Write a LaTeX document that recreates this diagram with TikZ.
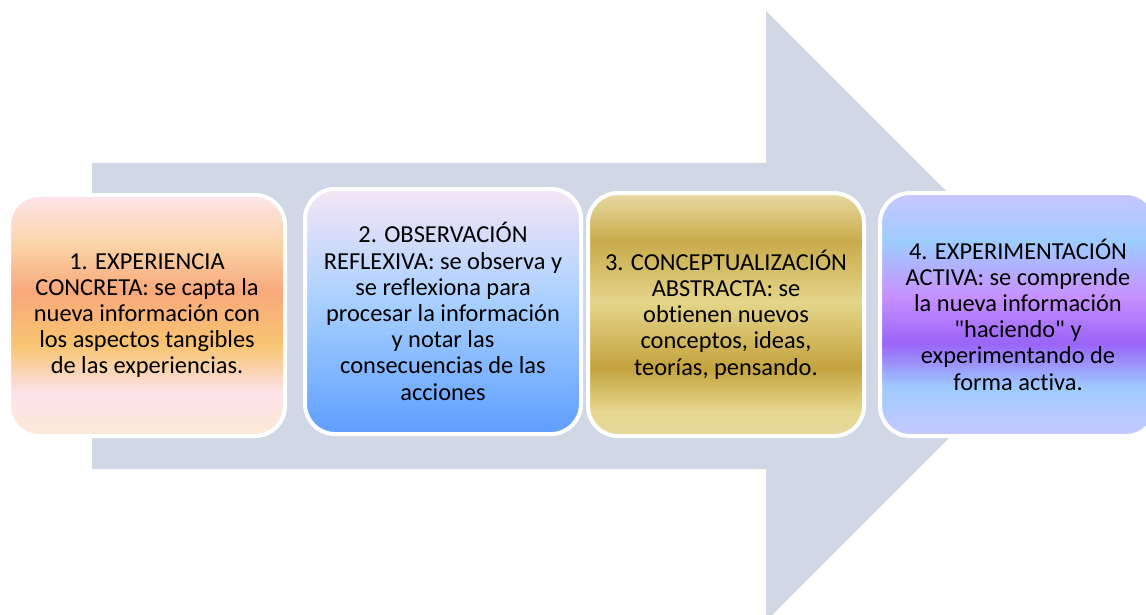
\documentclass[tikz,border=0pt]{standalone}
\usepackage{fontspec}
\setmainfont{Carlito}[Ligatures={TeXOff,CommonOff}]
\usetikzlibrary{shadings}
\definecolor{arrowfill}{HTML}{D0D8E6}
% box 1 (orange / pink)
\definecolor{aA}{HTML}{FCEAD5}
\definecolor{aB}{HTML}{FCE2EA}
\definecolor{aC}{HTML}{F8C470}
\definecolor{aD}{HTML}{F9A87B}
\definecolor{aE}{HTML}{FAD5A8}
\definecolor{aF}{HTML}{FCE4EC}
% box 2 (blue)
\definecolor{bA}{HTML}{5E9EFF}
\definecolor{bB}{HTML}{A8D0FF}
\definecolor{bC}{HTML}{F5E6F5}
% box 3 (gold)
\definecolor{cA}{HTML}{E4D79A}
\definecolor{cB}{HTML}{E6D890}
\definecolor{cC}{HTML}{C4A33E}
\definecolor{cD}{HTML}{E4D58A}
\definecolor{cE}{HTML}{C9AB4B}
\definecolor{cF}{HTML}{E6D9A2}
% box 4 (violet / blue)
\definecolor{dA}{HTML}{C6C9FF}
\definecolor{dB}{HTML}{9ECBFF}
\definecolor{dC}{HTML}{9A64F8}
\definecolor{dD}{HTML}{C792FF}
\definecolor{dE}{HTML}{9ECCFF}
\definecolor{dF}{HTML}{C9C6FF}
\pgfdeclareverticalshading{shadeA}{100bp}{color(0bp)=(aA); color(25bp)=(aA); color(34bp)=(aB); color(44bp)=(aC); color(55bp)=(aD); color(65bp)=(aE); color(75bp)=(aF); color(100bp)=(aF)}
\pgfdeclareverticalshading{shadeB}{100bp}{color(0bp)=(bA); color(25bp)=(bA); color(52bp)=(bB); color(75bp)=(bC); color(100bp)=(bC)}
\pgfdeclareverticalshading{shadeC}{100bp}{color(0bp)=(cA); color(25bp)=(cA); color(30bp)=(cB); color(39bp)=(cC); color(52.5bp)=(cD); color(65bp)=(cE); color(75bp)=(cF); color(100bp)=(cF)}
\pgfdeclareverticalshading{shadeD}{100bp}{color(0bp)=(dA); color(25bp)=(dA); color(35bp)=(dB); color(44bp)=(dC); color(54bp)=(dD); color(65bp)=(dE); color(75bp)=(dF); color(100bp)=(dF)}
\tikzset{
  stagebox/.style={draw=white, line width=4pt, rounded corners=30pt,
    minimum width=276pt, align=center, text=black,
    font=\fontsize{24.4}{26.2}\selectfont, inner sep=0pt},
}
\begin{document}
\begin{tikzpicture}[x=1pt, y=-1pt]
\useasboundingbox (0,0) rectangle (1146,615);
\clip (0,0) rectangle (1146,615);
\fill[arrowfill] (92,163) -- (766,163) -- (766,11) -- (1071,316) -- (766,621) -- (766,469) -- (92,469) -- cycle;
\node[stagebox, shading=shadeA, minimum height=241pt] (b1) at (147,315.5)
  {1. EXPERIENCIA\\CONCRETA: se capta la\\nueva información con\\los aspectos tangibles\\de las experiencias.};
\node[stagebox, shading=shadeB, minimum height=245pt] (b2) at (443,311.5)
  {2. OBSERVACIÓN\\REFLEXIVA: se observa y\\se reflexiona para\\procesar la información\\y notar las\\consecuencias de las\\acciones};
\node[stagebox, shading=shadeC, minimum height=243pt] (b3) at (726,314.5)
  {3. CONCEPTUALIZACIÓN\\ABSTRACTA: se\\obtienen nuevos\\conceptos, ideas,\\teorías, pensando.};
\node[stagebox, shading=shadeD, minimum height=243pt] (b4) at (1018,314.5)
  {4. EXPERIMENTACIÓN\\ACTIVA: se comprende\\la nueva información\\"haciendo" y\\experimentando de\\forma activa.};
\end{tikzpicture}
\end{document}
